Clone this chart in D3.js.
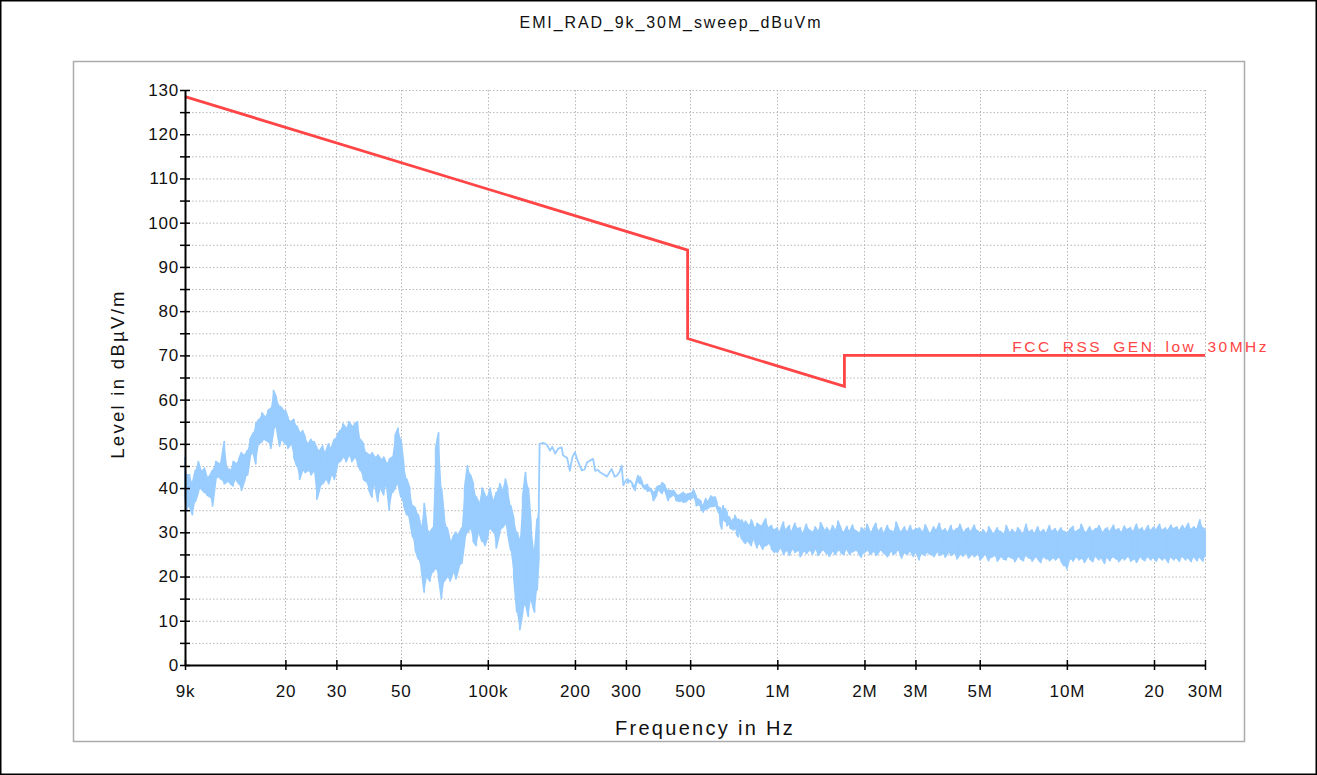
<!DOCTYPE html>
<html><head><meta charset="utf-8">
<script src="https://cdn.jsdelivr.net/npm/d3@7"></script>
<style>
html,body{margin:0;padding:0;background:#fff;}
svg{display:block;font-family:"Liberation Sans",Arial,sans-serif;}
</style>
</head><body>
<svg id="chart" width="1317" height="775"></svg>
<script>
// ---------- DATA ----------
const chartTitle = "EMI_RAD_9k_30M_sweep_dBuVm";
const xTitle = "Frequency in Hz";
const yTitle = "Level in dBµV/m";
const limitName = "FCC_RSS_GEN_low_30MHz";

const xTickValues = [9e3, 2e4, 3e4, 5e4, 1e5, 2e5, 3e5, 5e5, 1e6, 2e6, 3e6, 5e6, 1e7, 2e7, 3e7];
const xTickLabels = ["9k", "20", "30", "50", "100k", "200", "300", "500", "1M", "2M", "3M", "5M", "10M", "20", "30M"];
const yTickValues = [0,5,10,15,20,25,30,35,40,45,50,55,60,65,70,75,80,85,90,95,100,105,110,115,120,125,130];
const yTickLabels = ["0","","10","","20","","30","","40","","50","","60","","70","","80","","90","","100","","110","","120","","130"];

// limit line (Hz, dBµV/m)
const limitFreq = [9000, 490000, 490000, 1705000, 1705000, 30000000];
const limitLevel = [128.5, 93.8, 73.8, 63.0, 70.0, 70.0];

// measured trace: frequency (kHz) with min / max level of the sweep at that frequency
// segment A: 9 kHz - 150 kHz
const freqA = [9.0,9.12,9.33,9.55,9.77,
 10.0,10.2,10.5,10.7,11.0,11.2,11.5,11.8,12.0,12.3,
 12.6,12.9,13.2,13.5,13.8,14.1,14.5,14.8,15.1,15.5,
 15.8,16.2,16.6,17.0,17.4,17.8,18.2,18.6,19.1,19.5,
 20.0,20.4,20.9,21.4,21.9,22.4,22.9,23.4,24.0,24.5,
 25.1,25.7,26.3,26.9,27.5,28.2,28.8,29.5,30.2,30.9,
 31.6,32.4,33.1,33.9,34.7,35.5,36.3,37.2,38.0,38.9,
 39.8,40.7,41.7,42.7,43.7,44.7,45.7,46.8,47.9,49.0,
 50.1,51.3,52.5,53.7,55.0,56.2,57.5,58.9,60.3,61.7,
 63.1,64.6,66.1,67.6,69.2,70.8,72.4,74.1,75.9,77.6,
 79.4,81.3,83.2,85.1,87.1,89.1,91.2,93.3,95.5,97.7,
 100,102,105,107,110,112,115,117,120,123,
 126,129,132,135,138,141,145,148,150];
const minA = [38,35,36,34,37,
 39,40,39,38.5,38,36,42,42.5,42,41,
 41.5,41,40.5,42,41,39.5,42,43,47,48,
 45.5,50,50.5,51,50.5,49,53,54,49.5,51,
 50,49,50,47,45,42,44,43.5,44,43,
 44,37.5,40,41,42,41,43,42,45,46,
 47,46,47.5,46,47,45.5,44,42,41.5,39.5,
 38,41,37,40,38.5,41,35,39,40,41,
 38,36,34,33,29,26,24,22,16.5,20,
 19,21,22,20,15,19,20,19,21,19.5,
 22,23,28,30,31,28,27,30,28,27,
 29,31,30,26.5,30,31,32,30,26,20,
 12,8,12,14,11,15,12,17,24];
const maxA = [47,43,43,41,44,
 46,44,44.5,42.5,43,44,46,45.5,46,50.5,
 44.5,44,46,45.5,46.5,48,47.5,48.5,51,52.5,
 54.5,55.5,57,56,57.5,58,62,60.5,58.5,58,
 57.5,56,55,55.5,54,52.5,53,51.5,50,51,
 50.5,49,48.5,49.5,48,50,49,51,52,53,
 54.5,53.5,55,54,54.5,55,51,50,48,47.5,
 48,47,47.5,46.5,47,45.5,46.5,47,52,53.5,
 51,45,42,40,36,35.5,34,31,36.5,31,
 30,31,49,52.5,40,33,31,28,29,30,
 29.5,31,40,45,43,41,38,36.5,40,38.5,
 38,40,37,39,41,39.5,42,40,36,33,
 30,28,38,43.5,40,32,25,33,36];

// segment B: 151 kHz - 763 kHz
const freqB = [151,156,160,164,167,171,175,180,182,185,
 188,192,196,200,204,208,211,216,220,225,
 231,235,240,244,250,258,263,268,274,279,
 285,290,294,300,305,310,316,323,330,336,
 342,349,356,363,373,383,390,400,409,420,
 428,437,447,461,474,486,500,513,525,534,
 545,555,566,578,590,609,618,626,635,643,
 650,660,670,680,687,695,705,714,724,733,
 743,753,763];
const minB = [50,50.2,49.8,48.5,49.3,47.8,48.9,49.2,47.4,47.1,
 46.8,43.9,47,48.1,46.3,45,44,44.2,45.8,46.2,
 46.6,43.9,44.1,43.6,43.2,42.6,43.5,44.3,42.6,42.8,
 43.6,45.1,40.6,41.8,41.2,41.7,40.5,39.5,41.5,41,
 40.5,39.8,39.3,39.5,37.2,38.5,39.6,38.8,39.5,37.2,
 38,38.5,37.2,37,36.8,37,37.5,38,36,36.3,
 35.3,34.6,35.2,35.5,35.8,36,35.5,34.5,32,30.8,
 33,32.5,31.5,32,31,30.8,30.5,31,29.5,29,
 30,28.5,28];
const maxB = [50,50.2,49.8,48.5,49.3,47.8,48.9,49.2,47.4,47.1,
 46.8,43.9,47,48.1,46.3,45,44,44.2,45.8,46.2,
 46.6,43.9,44.1,43.6,43.2,42.6,43.5,44.3,42.6,42.8,
 43.6,45.1,40.6,41.8,42,41.7,41,40.6,42.8,42.5,
 41.2,40.5,40.8,40,39,40.2,40.5,41.2,40.6,39.5,
 39.4,39.5,38.6,38.5,39,38.6,38.8,39.6,38,37.5,
 37,36,37.6,37,38.2,38,36.8,35.7,35.5,34.5,
 36,35.3,34.5,33.5,33,32.5,33,33.8,32.7,33,
 32.5,32.8,32];

// segment C: 776 kHz - 977 kHz
const freqC = [776,794,813,832,851,871,891,912,933,955,977];
const minC = [27.5,28,27,28.5,26.5,27.5,26.2,27,27.5,26.3,25.5];
const maxC = [32.5,31.5,32.8,31,32,31.5,31.8,33,31,31.5,30.5];

// segment D: 1 MHz - 30 MHz
const freqD = [1000,1020,1050,1070,1100,1120,1150,1180,1200,1230,
 1260,1290,1320,1350,1380,1410,1450,1480,1510,1550,
 1580,1620,1660,1700,1740,1780,1820,1860,1910,1950,
 2000,2040,2090,2140,2190,2240,2290,2340,2400,2460,
 2510,2570,2630,2690,2750,2820,2880,2950,3020,3090,
 3160,3240,3310,3390,3470,3550,3630,3720,3800,3890,
 3980,4070,4170,4270,4370,4470,4570,4680,4790,4900,
 5010,5130,5250,5370,5500,5620,5750,5890,6030,6170,
 6310,6460,6610,6760,6920,7080,7240,7410,7590,7760,
 7940,8130,8320,8510,8710,8910,9120,9330,9550,9770,
 10000,10200,10500,10700,11000,11200,11500,11800,12000,12300,
 12600,12900,13200,13500,13800,14100,14500,14800,15100,15500,
 15800,16200,16600,17000,17400,17800,18200,18600,19100,19500,
 20000,20400,20900,21400,21900,22400,22900,23400,24000,24500,
 25100,25700,26300,26900,27500,28200,28800,29500,30000];
const minD = [25.5,26.5,25,26,24.8,26.2,25.5,26,24.5,25.8,
 25.2,26,25,26.3,24.8,25.5,26,25.2,24.6,25.8,
 25,26,25.4,25,26.2,25,25.6,26,25.2,24.4,
 25.5,26,25,25.7,24.8,25.5,26,25.2,24.5,25.8,
 25,25.5,26,24.2,25.4,25,25.8,24.6,25.5,23.8,
 25.2,24.8,25.5,25,24.5,25.6,24.8,25.2,24.4,25.5,
 24.8,25.3,24,25,24.6,25.4,24.2,25,24.5,25.2,
 23.8,24.5,25,23.6,24.4,24.8,23.5,24.5,24,23.8,
 24.6,24.2,23.4,24.5,24,23.6,24.8,24.2,23.5,24.4,
 24,23.2,24.5,24,23.6,24.2,23.8,24.4,23.5,22.5,
 21.8,24,23.5,24.4,23.8,24.2,23.2,24.5,24,23.4,
 24.6,23.8,24.2,23,24.4,23.6,24.5,24,23.4,24.2,
 23.8,24.6,23.5,24,23.2,24.4,24,23.6,24.5,23.8,
 24.2,23.5,24.4,23.8,24.2,23.2,24.5,23.8,24.2,23.5,
 24.6,23.8,24.2,23.4,24.5,23.6,24.4,23.5,24.5];
const maxD = [31,30,32.3,30.5,31.5,30,32,30.8,31,29.8,
 31.8,30.5,30,31.2,30.2,32.2,30.5,31,30.2,31.5,
 30.4,32.5,30.8,30,31.3,30.2,31.6,30.4,29.8,31,
 30.3,31.8,30,30.8,32,30.2,31,29.8,31.5,30.4,
 30,32.3,30.6,30.2,31.2,30,31.5,30.3,30.8,31,
 30,31.7,30.4,29.8,31.2,30.5,32,30.2,30.8,30,
 31.5,30.2,30.8,31.8,30,30.6,31,30.2,31.6,30.4,
 29.8,30.6,29.6,31.2,30,29.8,31,30.2,29.6,31.5,
 30,30.6,29.8,31,30.2,29.6,31.8,30,30.5,29.8,
 31.2,30,30.6,29.8,31.5,30.2,30.8,30,31,30.2,
 29.8,30.5,31.3,30,30.6,31.8,30,30.4,31.2,30.2,
 30.8,31.5,30,30.6,31,30.2,31.6,30.4,30.8,30,
 31.4,30.6,31,30.2,31.8,30.5,31,30.2,31.5,30.4,
 31.2,30.6,31.8,30.4,31,30.5,31.6,30.8,31.2,30.4,
 31.5,30.8,32,30.6,31.2,30.8,32.8,31,30.5];

// ---------- CHART ----------
const W = 1317, H = 775;
const svg = d3.select("#chart");
const plotL = 185, plotR = 1205, plotT = 90, plotB = 665;
const x = d3.scaleLog().domain([9e3, 3e7]).range([plotL, plotR]);
const y = d3.scaleLinear().domain([0, 130]).range([plotB, plotT]);

const red = "#ff4545", blue = "#99ccff", gridCol = "#b8b8b8";
const font = '"Liberation Sans", Arial, sans-serif';

// outer frame and inner panel
svg.append("rect").attr("x", 0.75).attr("y", 0.75).attr("width", W - 1.5).attr("height", H - 1.5)
  .attr("fill", "#fff").attr("stroke", "#000").attr("stroke-width", 1.5);
svg.append("rect").attr("x", 73.5).attr("y", 61.5).attr("width", 1171).attr("height", 680)
  .attr("fill", "#fff").attr("stroke", "#ababab").attr("stroke-width", 1.5);

// title
svg.append("text").attr("x", 671).attr("y", 28).attr("text-anchor", "middle")
  .attr("font-size", 16).attr("letter-spacing", 1.9).attr("fill", "#111").text(chartTitle);

// grid
const grid = svg.append("g");
grid.selectAll("line.h").data(yTickValues.filter(v => v > 0)).join("line")
  .attr("x1", plotL).attr("x2", plotR).attr("y1", d => y(d) + 0.5).attr("y2", d => y(d) + 0.5)
  .attr("stroke", gridCol).attr("stroke-width", 1).attr("stroke-dasharray", "1.5,2");
grid.selectAll("line.v").data(xTickValues.slice(1)).join("line")
  .attr("x1", d => Math.round(x(d)) + 0.5).attr("x2", d => Math.round(x(d)) + 0.5)
  .attr("y1", plotT).attr("y2", plotB)
  .attr("stroke", gridCol).attr("stroke-width", 1).attr("stroke-dasharray", "1.5,2");

// trace
const fK = [].concat(freqA, freqB, freqC, freqD);
const lo = [].concat(minA, minB, minC, minD);
const hi = [].concat(maxA, maxB, maxC, maxD);
const n = Math.min(fK.length, lo.length, hi.length);
const samples = d3.range(n).map(i => ({ f: fK[i] * 1000, lo: lo[i], hi: hi[i] }));
const zig = [];
samples.forEach((s, i) => {
  if (i % 2 === 0) { zig.push([s.f, s.hi], [s.f, s.lo]); }
  else { zig.push([s.f, s.lo], [s.f, s.hi]); }
});
svg.append("path").datum(samples)
  .attr("d", d3.area().x(d => x(d.f)).y0(d => y(d.lo)).y1(d => y(d.hi)))
  .attr("fill", blue).attr("stroke", "none");
svg.append("path").datum(zig)
  .attr("d", d3.line().x(d => x(d[0])).y(d => y(d[1])))
  .attr("fill", "none").attr("stroke", blue).attr("stroke-width", 1.8).attr("stroke-linejoin", "round");

// limit
const limitPts = limitFreq.map((f, i) => [f, limitLevel[i]]);
svg.append("path").datum(limitPts)
  .attr("d", d3.line().x(d => x(d[0])).y(d => y(d[1])))
  .attr("fill", "none").attr("stroke", red).attr("stroke-width", 2.8);
svg.append("text").attr("x", x(limitFreq[limitFreq.length - 1]) + 64).attr("y", y(limitLevel[limitLevel.length - 1]) - 3)
  .attr("text-anchor", "end").attr("font-size", 15.5).attr("letter-spacing", 2.5)
  .attr("fill", red).text(limitName);

// axes
const yAxis = d3.axisLeft(y).tickValues(yTickValues).tickFormat((d, i) => yTickLabels[i]).tickSize(5).tickSizeOuter(0);
const gy = svg.append("g").attr("transform", `translate(${plotL},0)`).call(yAxis);
gy.selectAll(".tick line").attr("x1", 5).attr("x2", -5).attr("stroke", "#000").attr("stroke-width", 1.5);
gy.selectAll(".tick text").attr("x", -6).attr("font-size", 17).attr("font-family", font).attr("fill", "#111").attr("letter-spacing", 0.8);
gy.select(".domain").attr("stroke", "#000").attr("stroke-width", 2);

const xAxis = d3.axisBottom(x).tickValues(xTickValues).tickFormat((d, i) => xTickLabels[i]).tickSize(5).tickSizeOuter(0);
const gx = svg.append("g").attr("transform", `translate(0,${plotB})`).call(xAxis);
gx.selectAll(".tick line").attr("y1", -5).attr("y2", 5).attr("stroke", "#000").attr("stroke-width", 1.5);
gx.selectAll(".tick text").attr("y", 32).attr("dy", 0).attr("font-size", 17).attr("font-family", font).attr("fill", "#111").attr("letter-spacing", 0.8);
gx.select(".domain").attr("stroke", "#000").attr("stroke-width", 2);

// axis titles
svg.append("text").attr("x", 705).attr("y", 735).attr("text-anchor", "middle")
  .attr("font-size", 20).attr("letter-spacing", 2.3).attr("fill", "#111").text(xTitle);
svg.append("text").attr("transform", "translate(124,374) rotate(-90)").attr("text-anchor", "middle")
  .attr("font-size", 18.5).attr("letter-spacing", 2.3).attr("fill", "#111").text(yTitle);
</script>
</body></html>
